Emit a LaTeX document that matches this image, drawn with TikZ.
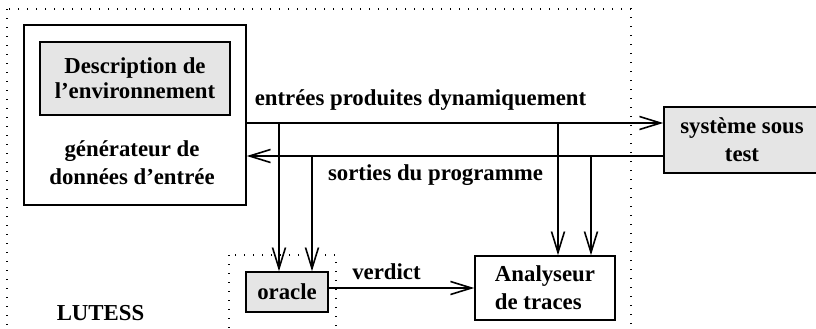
\documentclass[tikz,border=0pt]{standalone}
\usepackage{fontspec}
\setmainfont{Liberation Serif}
\usetikzlibrary{arrows.meta}

\begin{document}
\begin{tikzpicture}[x=.5pt, y=-.5pt, line width=.8pt, >={Straight Barb[length=10.5pt, width=6.5pt]},
  every node/.style={font=\fontsize{11.4}{14}\selectfont\bfseries, align=center, inner sep=0pt},
  box/.style={draw, rectangle},
  grey/.style={box, fill=gray!20},
  dots/.style={line width=.6pt, dash pattern=on .6pt off 3.9pt}]
  \path[use as bounding box, clip] (0,0) rectangle (816,328);
  \draw[dots] (7,9) rectangle (631,345);
  \draw[dots] (229,255) rectangle (336,345);
  \node (gen) [box, minimum width=111pt, minimum height=90pt] at (135,115) {};
  \node (desc) [grey, minimum width=95pt, minimum height=36.5pt] at (135,78.5) {Description de\\[-1.5pt]l'environnement};
  \node (gentxt) at (132,163) {générateur de\\données d'entrée};
  \node (sut) [grey, minimum width=78pt, minimum height=33pt] at (742,140) {système sous\\test};
  \node (oracle) [grey, minimum width=41pt, minimum height=20pt] at (287,292) {oracle};
  \node (ana) [box, align=left, minimum width=70pt, minimum height=32pt] at (545,288) {Analyseur\\de traces};
  \node (inlbl) [anchor=base] at (420.5,105) {entrées produites dynamiquement};
  \node (outlbl) [anchor=base] at (435.5,180) {sorties du programme};
  \node (verd) [anchor=base] at (386.5,279) {verdict};
  \node (lutess) [anchor=base] at (100.5,320) {LUTESS};
  \coordinate (e1) at (279,123);
  \coordinate (e2) at (558,123);
  \coordinate (s1) at (312,156);
  \coordinate (s2) at (591,156);
  \draw[->] (gen.east |- e1) -- (sut.west |- e1);
  \draw[->] (sut.west |- s1) -- (gen.east |- s1);
  \draw[->] (e1) -- (e1 |- oracle.north);
  \draw[->] (s1) -- (s1 |- oracle.north);
  \draw[->] (e2) -- (e2 |- ana.north);
  \draw[->] (s2) -- (s2 |- ana.north);
  \draw[->] (oracle.east |- ana.west) -- (ana.west);
\end{tikzpicture}
\end{document}
